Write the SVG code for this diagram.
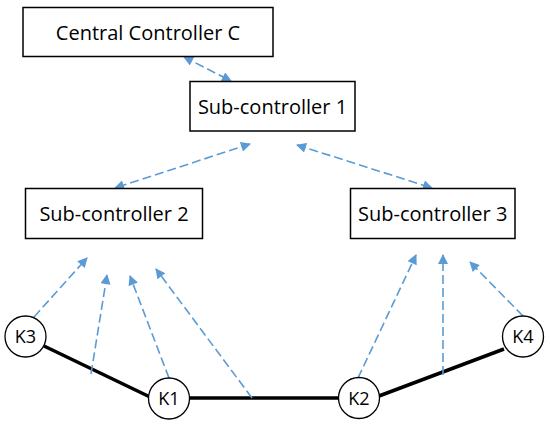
<svg xmlns="http://www.w3.org/2000/svg" width="550" height="426" viewBox="0 0 550 426">
<style>
.box{fill:#fff;stroke:#000;stroke-width:1.5}
.node{fill:#fff;stroke:#000;stroke-width:1.3}
.t{font-family:"Open Sans","Liberation Sans",sans-serif;font-size:20px;fill:#000;text-anchor:middle}
.k{font-family:"Open Sans","Liberation Sans",sans-serif;font-size:18px;fill:#000;text-anchor:middle}
.d{fill:none;stroke:#5B9BD5;stroke-width:1.6;stroke-dasharray:9 4}
.s{fill:none;stroke:#000;stroke-width:3.5}
</style>
<defs>
<marker id="ah" viewBox="0 0 10 10" refX="9" refY="5" markerWidth="11" markerHeight="10" markerUnits="userSpaceOnUse" orient="auto-start-reverse">
<path d="M0,0 L10,5 L0,10 z" fill="#5B9BD5"/>
</marker>
</defs>
<rect width="550" height="426" fill="#fff"/>
<g id="connectors">
<line class="s" x1="44" y1="346" x2="150" y2="397"/>
<line class="s" x1="190" y1="398" x2="338" y2="398"/>
<line class="s" x1="379" y1="396" x2="504" y2="349"/>
<line class="d" x1="184" y1="57" x2="231" y2="81" marker-start="url(#ah)" marker-end="url(#ah)"/>
<line class="d" x1="250" y1="144" x2="115" y2="188" marker-start="url(#ah)" marker-end="url(#ah)"/>
<line class="d" x1="297" y1="145" x2="432" y2="188" marker-start="url(#ah)" marker-end="url(#ah)"/>
<line class="d" x1="34" y1="317" x2="87" y2="258" marker-end="url(#ah)"/>
<line class="d" x1="91" y1="374" x2="107" y2="275" marker-end="url(#ah)"/>
<line class="d" x1="169" y1="378" x2="130" y2="276" marker-end="url(#ah)"/>
<line class="d" x1="252" y1="398" x2="156" y2="269" marker-end="url(#ah)"/>
<line class="d" x1="358" y1="378" x2="416" y2="255" marker-end="url(#ah)"/>
<line class="d" x1="443" y1="375" x2="443" y2="255" marker-end="url(#ah)"/>
<line class="d" x1="523" y1="316" x2="470" y2="262" marker-end="url(#ah)"/>
</g>
<g id="central">
<rect class="box" x="23" y="7.5" width="250" height="49"/>
<text class="t" x="148" y="39.5">Central Controller C</text>
</g>
<g id="sub1">
<rect class="box" x="190" y="81.5" width="165" height="49.5"/>
<text class="t" x="272.5" y="113.5">Sub-controller 1</text>
</g>
<g id="sub2">
<rect class="box" x="25.5" y="188.5" width="177" height="50"/>
<text class="t" x="114" y="220.5">Sub-controller 2</text>
</g>
<g id="sub3">
<rect class="box" x="350.5" y="188.5" width="164.5" height="50"/>
<text class="t" x="432.7" y="220.5">Sub-controller 3</text>
</g>
<g id="K3">
<circle class="node" cx="25.5" cy="336.5" r="20.5"/>
<text class="k" x="25.5" y="343">K3</text>
</g>
<g id="K1">
<circle class="node" cx="169" cy="398.5" r="20.5"/>
<text class="k" x="169" y="405">K1</text>
</g>
<g id="K2">
<circle class="node" cx="359" cy="398" r="20.5"/>
<text class="k" x="359" y="404.5">K2</text>
</g>
<g id="K4">
<circle class="node" cx="523" cy="336.5" r="20.5"/>
<text class="k" x="523" y="343">K4</text>
</g>
</svg>
